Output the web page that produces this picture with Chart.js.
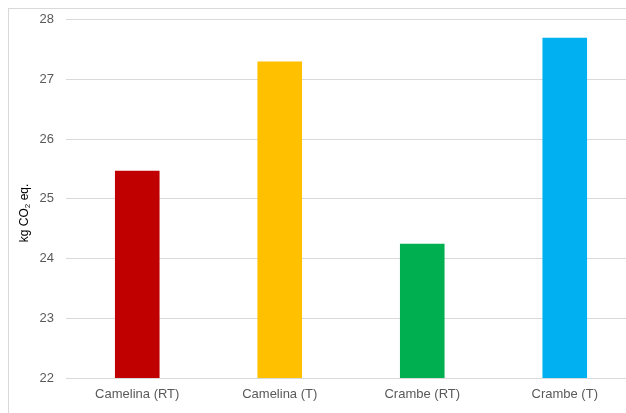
<!DOCTYPE html>
<html>
<head>
<meta charset="utf-8">
<script src="https://cdn.jsdelivr.net/npm/chart.js@4/dist/chart.umd.min.js"></script>
<style>
  html, body { margin: 0; padding: 0; background: #fff; overflow: hidden; }
  #wrap { position: relative; width: 626px; height: 413px; overflow: hidden; }
  #grafica { position: absolute; left: 0; top: 0; }
  #marco { position: absolute; left: 8px; top: 8px; width: 700px; height: 500px;
           border: 1px solid #d9d9d9; pointer-events: none; }
</style>
</head>
<body>
<div id="wrap">
  <canvas id="grafica" width="640" height="413"></canvas>
  <div id="marco"></div>
</div>
<script>
// Datos
const categorias = ['Camelina (RT)', 'Camelina (T)', 'Crambe (RT)', 'Crambe (T)'];
const valores = [25.47, 27.3, 24.25, 27.7];
const colores = ['#C00000', '#FFC000', '#00B050', '#00B0F0'];
const yMin = 22;
const yMax = 28;
// titulo del eje y en tres trozos: texto, subindice, texto
const tituloY = ['kg CO', '2', ' eq.'];

const gris = '#595959';
const lineaGris = '#d9d9d9';

// Dibuja el titulo del eje y con el 2 como subindice
const tituloPlugin = {
    id: 'tituloY',
    afterDraw(chart) {
        const ctx = chart.ctx;
        const area = chart.chartArea;
        const fuente = '12px "Liberation Sans", Arial, sans-serif';
        const fuenteSub = '8px "Liberation Sans", Arial, sans-serif';
        ctx.save();
        ctx.font = fuente;
        const a = ctx.measureText(tituloY[0]).width;
        const c = ctx.measureText(tituloY[2]).width;
        ctx.font = fuenteSub;
        const b = ctx.measureText(tituloY[1]).width;
        const total = a + b + c;
        const centro = (area.top + area.bottom) / 2 + 14;
        ctx.translate(25, centro);
        ctx.rotate(-Math.PI / 2);
        ctx.fillStyle = '#000';
        ctx.textBaseline = 'middle';
        ctx.textAlign = 'left';
        let x = -total / 2;
        ctx.font = fuente;
        ctx.fillText(tituloY[0], x, 0);
        x += a;
        ctx.font = fuenteSub;
        ctx.fillText(tituloY[1], x, 3);
        x += b;
        ctx.font = fuente;
        ctx.fillText(tituloY[2], x, 0);
        ctx.restore();
    }
};

new Chart(document.getElementById('grafica'), {
    type: 'bar',
    data: {
        labels: categorias,
        datasets: [{
            data: valores,
            backgroundColor: colores,
            borderWidth: 0,
            barPercentage: 0.313,
            categoryPercentage: 1
        }]
    },
    options: {
        responsive: false,
        animation: false,
        layout: { padding: { left: 0, right: 4, top: 18, bottom: 0 } },
        plugins: {
            legend: { display: false },
            tooltip: { enabled: false }
        },
        scales: {
            x: {
                grid: { display: false },
                border: { display: true, color: lineaGris, width: 1 },
                ticks: {
                    color: gris,
                    padding: 1,
                    font: { family: 'Liberation Sans', size: 13 }
                },
                afterFit: function (scale) { scale.height = 35; }
            },
            y: {
                min: yMin,
                max: yMax,
                grid: { color: lineaGris, drawTicks: false },
                border: { display: false },
                ticks: {
                    stepSize: 1,
                    color: gris,
                    padding: 12,
                    font: { family: 'Liberation Sans', size: 13 }
                },
                afterFit: function (scale) { scale.width = 66; }
            }
        }
    },
    plugins: [tituloPlugin]
});
</script>
</body>
</html>
